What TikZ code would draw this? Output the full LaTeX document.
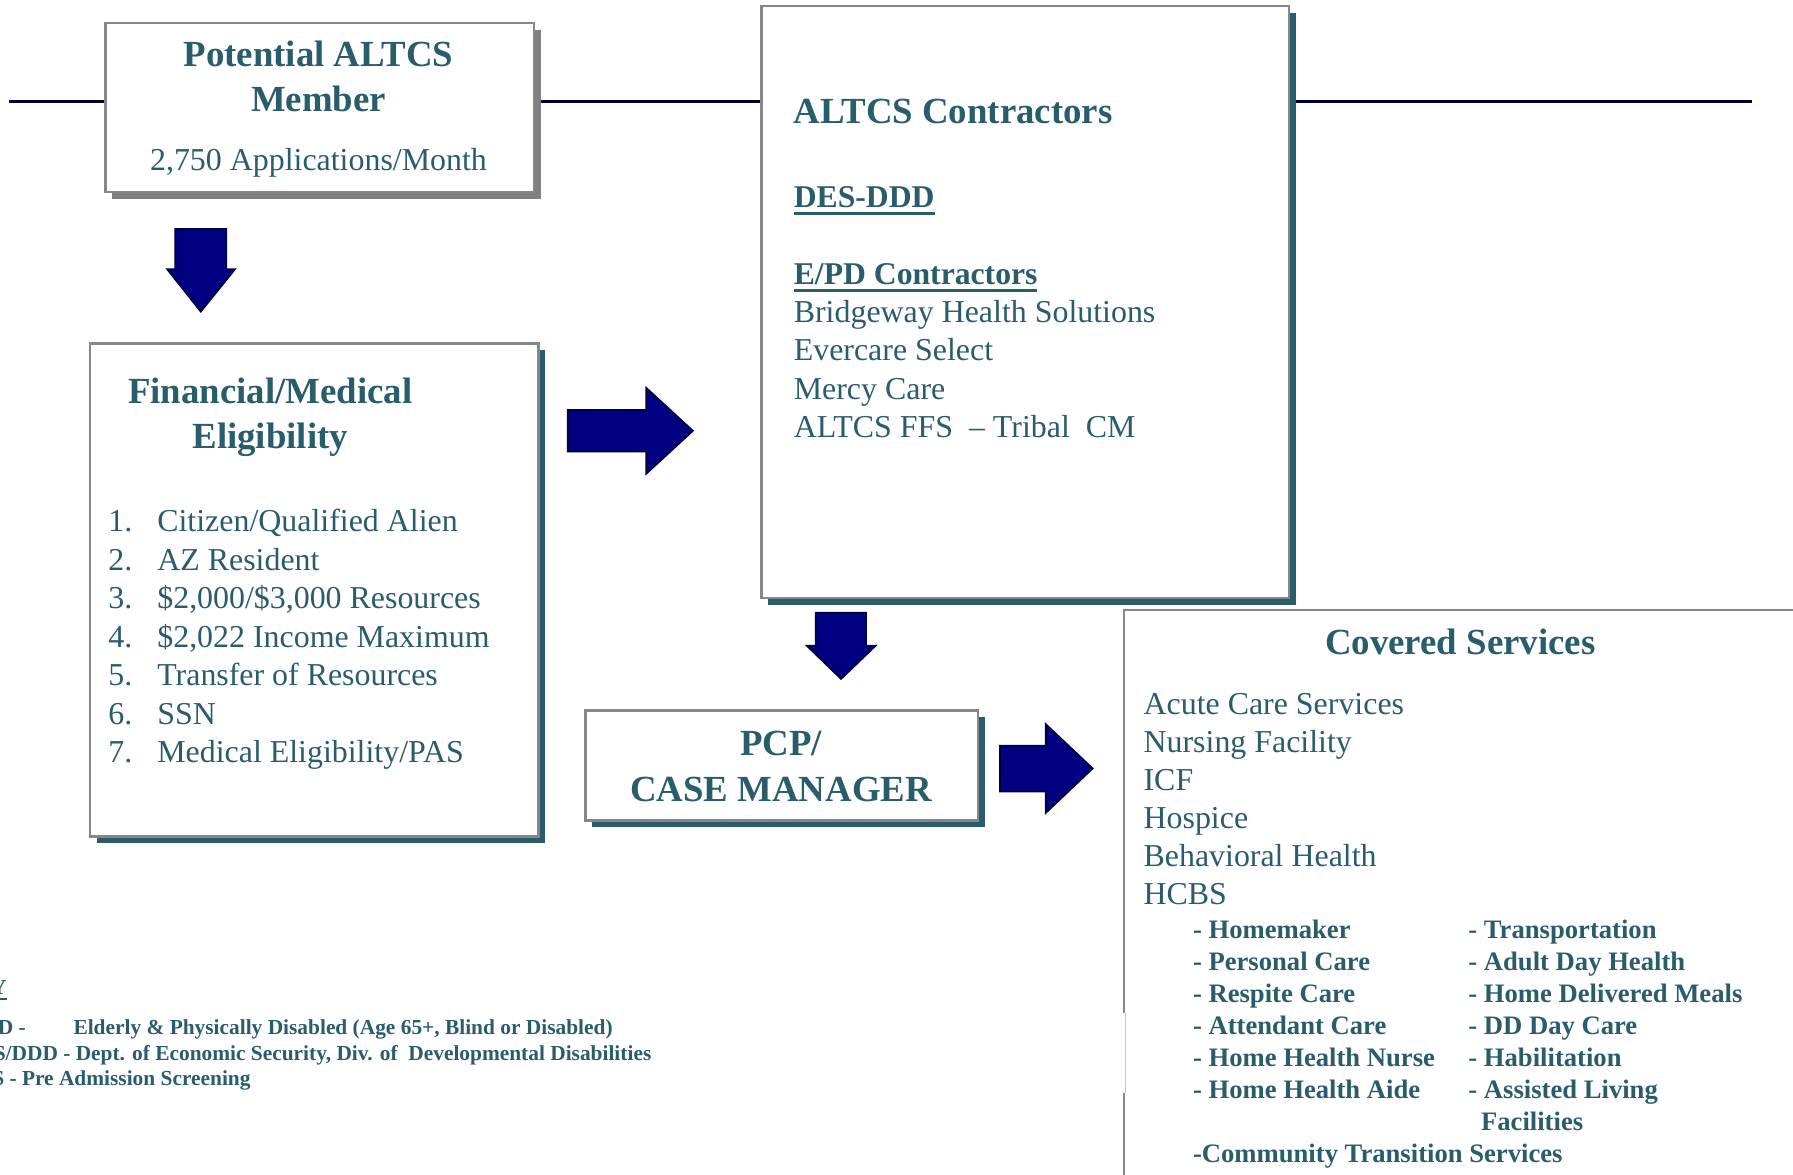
\documentclass[tikz,border=0pt]{standalone}
\usepackage{fontspec}
\setmainfont{Liberation Serif}
\usetikzlibrary{shadows}
\definecolor{tealc}{RGB}{41,93,108}
\definecolor{navyc}{RGB}{0,0,128}
\definecolor{navyd}{RGB}{0,0,60}
\definecolor{linec}{RGB}{0,0,51}
\definecolor{bordc}{RGB}{135,135,135}
\definecolor{shgray}{RGB}{128,128,128}
\newcommand\mytitle{\fontsize{32.2}{39.5}\selectfont\bfseries}
\newcommand\mybody{\fontsize{27.9}{33.5}\selectfont}
\newcommand\mysub{\fontsize{27.7}{33.5}\selectfont\bfseries}
\newcommand\myitem{\fontsize{23.3}{28}\selectfont\bfseries}
\newcommand\mykey{\fontsize{18.7}{22.5}\selectfont\bfseries}
\newcommand\myul[1]{\setbox0\hbox{#1}\rlap{\rule[-6.4pt]{\wd0}{2.6pt}}\box0}
\newcommand\myulk[1]{\setbox0\hbox{#1}\rlap{\rule[-4.3pt]{\wd0}{1.5pt}}\box0}
\tikzset{
  boxst/.style={rectangle, draw=bordc, line width=2pt, fill=white, inner sep=0pt},
  tealshadow/.style={drop shadow={shadow xshift=6pt, shadow yshift=-6pt, fill=tealc, opacity=1}},
  grayshadow/.style={drop shadow={shadow xshift=6pt, shadow yshift=-6pt, fill=shgray, opacity=1}},
  blockarrow/.style={fill=navyc, draw=navyd, line width=1.4pt, line join=miter},
  ttl/.style={font=\mytitle, anchor=base},
  bod/.style={font=\mybody, anchor=base west},
  itm/.style={font=\myitem, anchor=base west},
  key/.style={font=\mykey, anchor=base west},
}
\begin{document}
\begin{tikzpicture}[x=1pt,y=-1pt, every node/.style={inner sep=0pt, text=tealc}]
\useasboundingbox (0,0) rectangle (1568,1027);
\clip (0,0) rectangle (1568,1027);
\fill[white] (0,0) rectangle (1568,1027);

% horizontal rule
\coordinate (lineL) at (7.8,89);
\coordinate (lineR) at (1532,89);
\draw[linec, line width=2.6pt] (lineL) -- (lineR);

% boxes
\node[boxst, grayshadow, minimum width=374.8pt, minimum height=147.7pt, anchor=north west] (member) at (91.2,19) {};
\node[boxst, tealshadow, minimum width=392.5pt, minimum height=431pt, anchor=north west] (elig) at (77.5,299.5) {};
\node[boxst, tealshadow, minimum width=461pt, minimum height=517.6pt, anchor=north west] (contr) at (665,4.4) {};
\node[boxst, tealshadow, minimum width=343.5pt, minimum height=96.2pt, anchor=north west] (pcp) at (511,620.3) {};
\node[rectangle, fill=white, minimum width=640pt, minimum height=540pt, anchor=north west] (cov) at (983,533.5) {};
\draw[bordc, line width=2pt] (cov.north east) -- (cov.north west) -- ([yshift=-352.1pt]cov.north west);
\draw[bordc, line width=2pt] ([yshift=-422pt]cov.north west) -- (cov.south west);
\draw[gray!45, line width=0.8pt] ([xshift=1pt,yshift=-352.1pt]cov.north west) -- ([xshift=1pt,yshift=-422pt]cov.north west);

% box 1 text
\node[ttl] (m1) at (278.5,58.3) {Potential ALTCS};
\node[ttl] (m2) at (278.5,97.7) {Member};
\node[font=\mybody, anchor=base] (m3) at (278.5,149.3) {2,750 Applications/Month};

% box 2 text
\node[ttl] (e1) at (236.3,352.7) {Financial/Medical};
\node[ttl] (e2) at (236.3,392.1) {Eligibility};
\node[bod] (n1) at (94.6,465.2) {1.};
\node[bod] (n2) at (94.6,498.8) {2.};
\node[bod] (n3) at (94.6,532.4) {3.};
\node[bod] (n4) at (94.6,566.0) {4.};
\node[bod] (n5) at (94.6,599.6) {5.};
\node[bod] (n6) at (94.6,633.2) {6.};
\node[bod] (n7) at (94.6,666.8) {7.};
\node[bod] (l1) at (137.4,465.2) {Citizen/Qualified Alien};
\node[bod] (l2) at (137.4,498.8) {AZ Resident};
\node[bod] (l3) at (137.4,532.4) {\$2,000/\$3,000 Resources};
\node[bod] (l4) at (137.4,566.0) {\$2,022 Income Maximum};
\node[bod] (l5) at (137.4,599.6) {Transfer of Resources};
\node[bod] (l6) at (137.4,633.2) {SSN};
\node[bod] (l7) at (137.4,666.8) {Medical Eligibility/PAS};

% box 3 text
\node[font=\mytitle, anchor=base west] (c1) at (694,108.2) {ALTCS Contractors};
\node[font=\mysub, anchor=base west] (c2) at (694,181.5) {\myul{DES-DDD}};
\node[font=\mysub, anchor=base west] (c3) at (694,249) {\myul{E/PD Contractors}};
\node[bod] (c4) at (694,281.8) {Bridgeway Health Solutions};
\node[bod] (c5) at (694,315.4) {Evercare Select};
\node[bod] (c6) at (694,349.0) {Mercy Care};
\node[bod] (c7) at (694,382.4) {ALTCS FFS\ \ –\ Tribal\ \ CM};

% box 4 text
\node[ttl] (p1) at (683,661.1) {PCP/};
\node[ttl] (p2) at (683,701.1) {CASE MANAGER};

% box 5 text
\node[ttl] (s0) at (1277,572.7) {Covered Services};
\node[bod] (s1) at (999.9,624.6) {Acute Care Services};
\node[bod] (s2) at (999.9,657.9) {Nursing Facility};
\node[bod] (s3) at (999.9,691.2) {ICF};
\node[bod] (s4) at (999.9,724.5) {Hospice};
\node[bod] (s5) at (999.9,757.8) {Behavioral Health};
\node[bod] (s6) at (999.9,791.1) {HCBS};
\node[itm] (h1) at (1043.1,820.8) {- Homemaker};
\node[itm] (h2) at (1043.1,848.8) {- Personal Care};
\node[itm] (h3) at (1043.1,876.8) {- Respite Care};
\node[itm] (h4) at (1043.1,904.8) {- Attendant Care};
\node[itm] (h5) at (1043.1,932.8) {- Home Health Nurse};
\node[itm] (h6) at (1043.1,960.8) {- Home Health Aide};
\node[itm] (r1) at (1283.9,820.8) {- Transportation};
\node[itm] (r2) at (1283.9,848.8) {- Adult Day Health};
\node[itm] (r3) at (1283.9,876.8) {- Home Delivered Meals};
\node[itm] (r4) at (1283.9,904.8) {- DD Day Care};
\node[itm] (r5) at (1283.9,932.8) {- Habilitation};
\node[itm] (r6) at (1283.9,960.8) {- Assisted Living};
\node[itm] (r7) at (1295,988.8) {Facilities};
\node[itm] (h7) at (1043.1,1016.8) {-Community Transition Services};

% legend
\node[key] (k0) at (-8,870.1) {\myulk{Y}};
\node[key] (k1) at (-2,904.3) {D -};
\node[key] (k1b) at (64.1,904.3) {Elderly \& Physically Disabled (Age 65+, Blind or Disabled)};
\node[key] (k2) at (-5.6,927) {S/DDD - Dept. of Economic Security, Div. of\ \ Developmental Disabilities};
\node[key] (k3) at (-6.9,948.9) {S - Pre Admission Screening};

% block arrows
\draw[blockarrow] (153.3,200.3) -- (197.9,200.3) -- (197.9,235.5) -- (205.5,235.5) -- (175.6,272.6) -- (146.2,235.5) -- (153.3,235.5) -- cycle;
\draw[blockarrow] (496.5,358.5) -- (565,358.5) -- (565,339) -- (606,376.75) -- (565,414.5) -- (565,395) -- (496.5,395) -- cycle;
\draw[blockarrow] (713.3,535.8) -- (757.3,535.8) -- (757.3,564.7) -- (765.8,564.7) -- (735.5,593.8) -- (705.5,564.7) -- (713.3,564.7) -- cycle;
\draw[blockarrow] (874.5,652.1) -- (914.5,652.1) -- (914.5,633.2) -- (955.6,672) -- (914.5,711) -- (914.5,692.3) -- (874.5,692.3) -- cycle;
\end{tikzpicture}
\end{document}
